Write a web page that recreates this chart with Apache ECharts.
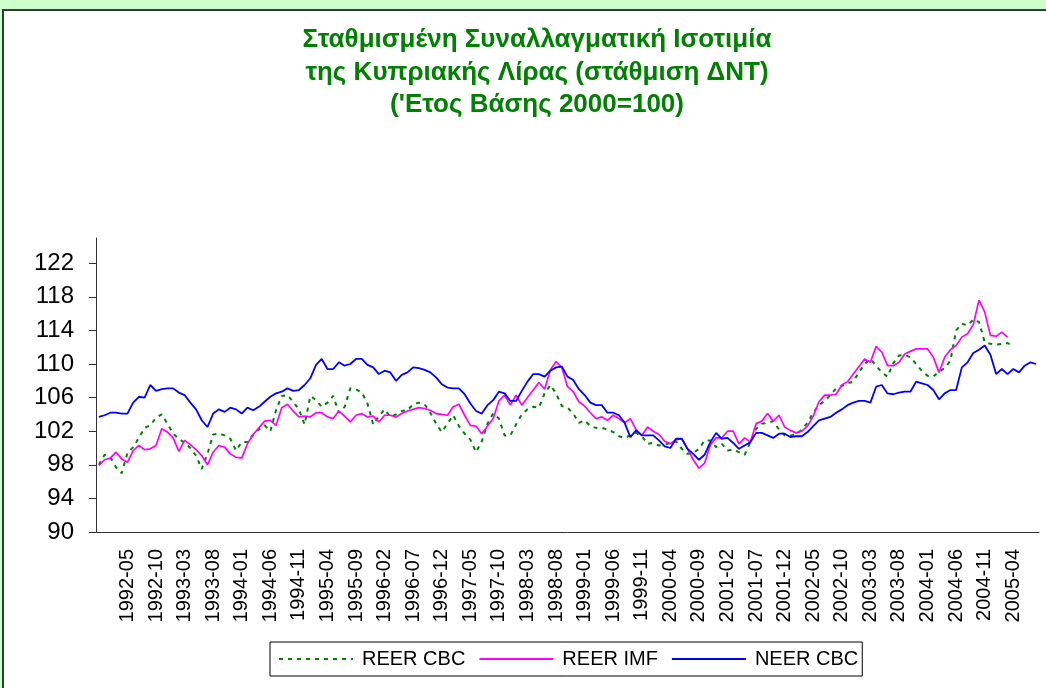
<!DOCTYPE html>
<html>
<head>
<meta charset="utf-8">
<title>REER / NEER</title>
<script src="https://cdn.jsdelivr.net/npm/echarts@6/dist/echarts.min.js"></script>
<style>
    html, body { margin: 0; padding: 0; background: #ccffcc; }
    #chart { width: 1046px; height: 688px; }
</style>
</head>
<body>
<div id="chart"></div>
<script>
// monthly data, first month 1991-12
var months = [];
(function() {
    var y = 1991, m = 12;
    for (var k = 0; k < 165; k++) {
        months.push(y + "-" + (m < 10 ? "0" + m : m));
        m++;
        if (m > 12) { m = 1; y++; }
    }
})();

var reerCbc = [
    98.0, 99.2, 98.9, 97.7, 97.0, 99.4, 100.1, 101.2, 102.4, 102.7,
    103.6, 104.0, 102.9, 101.7, 101.1, 100.6, 100.0, 99.1, 97.5, 99.3,
    101.6, 101.7, 101.5, 101.1, 99.7, 100.7, 100.7, 101.6, 102.2, 102.7,
    102.0, 104.5, 106.2, 106.3, 105.5, 104.6, 102.8, 106.2, 105.7, 104.9,
    105.4, 106.2, 104.2, 104.9, 107.1, 107.0, 106.6, 105.3, 102.8, 103.8,
    104.6, 103.7, 104.0, 104.4, 104.5, 105.2, 105.4, 105.2, 104.2, 102.9,
    101.9, 102.9, 103.9, 102.6, 101.7, 101.0, 99.5, 100.8, 102.9, 104.1,
    103.5, 101.5, 101.5, 102.8, 104.0, 104.6, 104.9, 104.8, 106.5, 107.5,
    106.5, 105.0, 104.8, 104.1, 103.0, 103.3, 102.6, 102.4, 102.4, 102.2,
    101.9, 101.4, 101.2, 101.5, 101.8, 101.4, 100.5, 100.6, 100.3, 100.4,
    100.6, 100.8, 99.9, 99.3, 99.4, 99.9, 100.9, 100.9, 100.1, 100.5,
    99.7, 99.8, 99.5, 99.2, 100.7, 102.3, 102.9, 103.0, 103.2, 102.2,
    101.5, 101.5, 101.6, 102.2, 103.0, 104.2, 105.1, 105.6, 106.3, 107.1,
    107.4, 107.7, 107.9, 109.0, 110.0, 110.6, 109.8, 109.0, 108.5, 110.1,
    111.0, 111.1, 110.8, 110.0, 109.2, 108.6, 108.5, 109.1, 109.5, 110.4,
    114.0, 114.8, 114.6, 115.3, 115.0, 112.6, 112.4, 112.3, 112.4, 112.5,
    112.1, null, null, null, null
];

var reerImf = [
    97.9, 98.6, 98.8, 99.5, 98.7, 98.3, 99.7, 100.3, 99.8, 99.9,
    100.3, 102.3, 101.9, 101.2, 99.6, 100.9, 100.4, 99.8, 99.1, 98.0,
    99.5, 100.3, 100.1, 99.3, 98.9, 98.8, 100.5, 101.6, 102.4, 103.2,
    103.3, 102.7, 104.8, 105.2, 104.4, 103.7, 103.8, 103.7, 104.2, 104.2,
    103.7, 103.5, 104.4, 103.8, 103.1, 103.9, 104.1, 103.7, 103.8, 103.1,
    103.9, 103.9, 103.7, 104.1, 104.4, 104.6, 104.8, 104.7, 104.5, 104.1,
    104.0, 103.9, 104.9, 105.2, 103.9, 102.7, 102.6, 101.7, 102.6, 103.5,
    105.6, 106.3, 105.1, 106.3, 105.1, 106.0, 106.9, 107.8, 107.0, 109.3,
    110.3, 109.6, 107.3, 106.7, 105.5, 105.0, 104.2, 103.5, 103.7, 103.3,
    103.9, 103.5, 103.0, 103.5, 102.2, 101.5, 102.5, 102.0, 101.6, 100.8,
    100.5, 101.0, 101.1, 99.9, 98.6, 97.6, 98.2, 100.4, 101.2, 101.2,
    102.0, 102.0, 100.5, 101.2, 100.7, 102.9, 103.2, 104.1, 103.2, 103.9,
    102.5, 102.1, 101.8, 102.0, 102.6, 103.8, 105.5, 106.3, 106.3, 106.4,
    107.5, 107.9, 108.8, 109.7, 110.6, 110.2, 112.1, 111.4, 109.8, 109.8,
    110.2, 111.2, 111.5, 111.8, 111.8, 111.8, 110.8, 109.0, 110.8, 111.7,
    112.2, 113.2, 113.6, 114.7, 117.6, 116.2, 113.4, 113.3, 113.8, 113.2,
    null, null, null, null, null
];

var neerCbc = [
    103.7, 103.9, 104.2, 104.2, 104.1, 104.1, 105.4, 106.1, 106.0, 107.5,
    106.8, 107.0, 107.1, 107.1, 106.6, 106.3, 105.4, 104.6, 103.3, 102.5,
    104.1, 104.6, 104.3, 104.8, 104.6, 104.1, 104.8, 104.5, 104.9, 105.5,
    106.1, 106.5, 106.7, 107.1, 106.8, 106.9, 107.5, 108.3, 109.9, 110.6,
    109.4, 109.4, 110.2, 109.8, 110.0, 110.6, 110.6, 109.9, 109.6, 108.8,
    109.2, 109.0, 108.0, 108.7, 109.0, 109.6, 109.5, 109.3, 109.0, 108.4,
    107.6, 107.2, 107.1, 107.1, 106.4, 105.3, 104.4, 104.1, 105.1, 105.7,
    106.7, 106.5, 105.6, 105.6, 106.8, 107.9, 108.8, 108.8, 108.5, 109.2,
    109.6, 109.7, 108.5, 108.1, 107.0, 106.3, 105.4, 105.1, 105.1, 104.2,
    104.2, 103.9, 103.0, 101.3, 102.1, 101.5, 101.5, 101.5, 100.9, 100.2,
    100.0, 101.1, 101.1, 99.9, 99.3, 98.6, 99.2, 100.7, 101.8, 101.1,
    101.2, 100.6, 99.9, 100.3, 100.7, 101.8, 101.8, 101.5, 101.2, 101.7,
    101.7, 101.3, 101.4, 101.4, 101.9, 102.6, 103.3, 103.5, 103.7, 104.2,
    104.6, 105.1, 105.4, 105.6, 105.6, 105.4, 107.3, 107.5, 106.5, 106.4,
    106.6, 106.7, 106.7, 107.9, 107.7, 107.5, 106.9, 105.8, 106.5, 106.9,
    106.9, 109.6, 110.2, 111.3, 111.7, 112.2, 111.1, 108.8, 109.4, 108.8,
    109.4, 109.0, 109.8, 110.2, 110.0
];

var seriesNames = ["REER CBC", "REER IMF", "NEER CBC"];
var titleText = "Σταθμισμένη Συναλλαγματική Ισοτιμία\nτης Κυπριακής Λίρας (στάθμιση ΔΝΤ)\n('Ετος Βάσης 2000=100)";

var font = "'Liberation Sans', Arial, sans-serif";

var chart = echarts.init(document.getElementById("chart"));

var option = {
    backgroundColor: "#ccffcc",
    animation: false,
    graphic: [
        {
            type: "rect",
            z: -10,
            shape: { x: 3, y: 10, width: 1060, height: 700 },
            style: { fill: "#ffffff", stroke: "#2f3f2f", lineWidth: 2 }
        }
    ],
    title: {
        text: titleText,
        left: 532,
        top: 19,
        textAlign: "center",
        textStyle: {
            color: "#008000",
            fontFamily: font,
            fontWeight: "bold",
            fontSize: 26,
            lineHeight: 32.5
        }
    },
    legend: {
        data: seriesNames,
        left: 270,
        top: 642,
        itemWidth: 74,
        itemHeight: 12,
        itemGap: 13,
        padding: [7, 4, 7, 8],
        borderColor: "#000",
        borderWidth: 1,
        itemStyle: { opacity: 0 },
        textStyle: { fontFamily: font, fontSize: 20, color: "#000", padding: [0, 0, 0, 4] }
    },
    grid: {
        left: 96,
        right: 7,
        top: 238,
        bottom: 156
    },
    xAxis: {
        type: "category",
        data: months,
        boundaryGap: true,
        axisLine: { lineStyle: { color: "#333", width: 1 } },
        axisTick: { interval: 4, length: 6, lineStyle: { color: "#333" } },
        axisLabel: {
            interval: function(index) { return index > 0 && index % 5 === 0; },
            rotate: 90,
            margin: 17,
            color: "#000",
            fontFamily: font,
            fontSize: 20
        }
    },
    yAxis: {
        type: "value",
        min: 90,
        max: 125,
        interval: 4,
        splitLine: { show: false },
        axisLine: { show: true, lineStyle: { color: "#333", width: 1 } },
        axisTick: { show: true, length: 7, lineStyle: { color: "#333" } },
        axisLabel: {
            showMaxLabel: false,
            margin: 22,
            color: "#000",
            fontFamily: font,
            fontSize: 24
        }
    },
    series: [
        {
            name: seriesNames[0],
            type: "line",
            data: reerCbc,
            symbol: "none",
            lineStyle: { color: "#008000", width: 2, type: [4, 5] },
            itemStyle: { color: "#008000" }
        },
        {
            name: seriesNames[1],
            type: "line",
            data: reerImf,
            symbol: "none",
            lineStyle: { color: "#ff00ff", width: 1.7 },
            itemStyle: { color: "#ff00ff" }
        },
        {
            name: seriesNames[2],
            type: "line",
            data: neerCbc,
            symbol: "none",
            lineStyle: { color: "#0000ff", width: 1.8 },
            itemStyle: { color: "#0000ff" }
        }
    ]
};

chart.setOption(option);
</script>
</body>
</html>
